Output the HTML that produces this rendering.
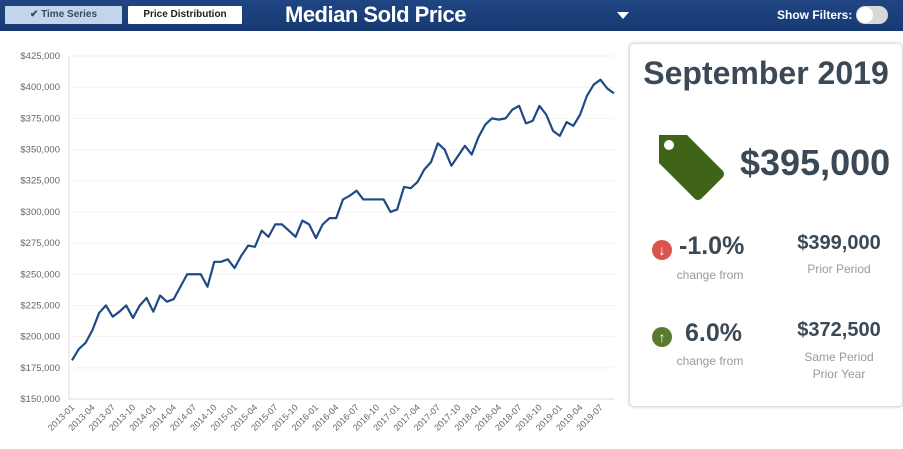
<!DOCTYPE html>
<html><head><meta charset="utf-8"><style>
body{margin:0;width:903px;height:449px;background:#fff;font-family:"Liberation Sans",sans-serif;overflow:hidden;position:relative}
.hdr{position:absolute;left:0;top:0;width:903px;height:31px;background:linear-gradient(#1f4583,#183a73)}
.btn{position:absolute;top:6px;height:18px;font-size:10px;font-weight:bold;line-height:18px;text-align:center;color:#222;border-radius:1px}
.title{position:absolute;left:285px;top:2px;font-size:22px;font-weight:bold;color:#fff;letter-spacing:-0.5px}
.panel{position:absolute;left:629px;top:43px;width:272px;height:362px;border:1px solid #ddd;border-radius:5px;box-shadow:0 0 3px #ccc;color:#3b4856}
.c{position:absolute;text-align:center}
</style></head><body>
<div class="hdr">
<div class="btn" style="left:5px;width:117px;background:#c3d5ea;color:#3a4a5e">✔ Time Series</div>
<div class="btn" style="left:128px;width:114px;background:#fff">Price Distribution</div>
<div class="title">Median Sold Price</div>
<div style="position:absolute;left:617px;top:12px;width:0;height:0;border-left:6px solid transparent;border-right:6px solid transparent;border-top:7px solid #fff"></div>
<div style="position:absolute;left:777px;top:8px;font-size:12px;font-weight:bold;color:#fff">Show Filters:</div>
<div style="position:absolute;left:856px;top:6px;width:32px;height:18px;border-radius:9px;background:#d8d8d8"><div style="position:absolute;left:1px;top:1px;width:16px;height:16px;border-radius:8px;background:#fff"></div></div>
</div>
<svg id="chart" width="625" height="449" style="position:absolute;left:0;top:0"></svg>
<div class="panel">
<div class="c" style="left:0;width:272px;top:11px;font-size:32px;font-weight:bold">September 2019</div>
<svg style="position:absolute;left:25px;top:87px" width="72" height="72"><path d="M4 4 L32 4 L68 40 Q70 43 68 46 L46 68 Q43 70 40 68 L4 32 Z" fill="#3f6317"/><circle cx="14" cy="14" r="5" fill="#fff"/></svg>
<div style="position:absolute;left:110px;top:98px;font-size:36px;font-weight:bold">$395,000</div>
<div style="position:absolute;left:22px;top:196px;width:20px;height:20px;border-radius:10px;background:#d9534f;color:#fff;font-size:14px;font-weight:bold;text-align:center;line-height:20px">↓</div>
<div style="position:absolute;left:49px;top:188px;font-size:25px;font-weight:bold">-1.0%</div>
<div class="c" style="left:25px;width:110px;top:224px;font-size:12px;color:#999">change from</div>
<div class="c" style="left:146px;width:126px;top:188px;font-size:20px;font-weight:bold">$399,000</div>
<div class="c" style="left:146px;width:126px;top:218px;font-size:12px;color:#999">Prior Period</div>
<div style="position:absolute;left:22px;top:283px;width:20px;height:20px;border-radius:10px;background:#5a7a2e;color:#fff;font-size:14px;font-weight:bold;text-align:center;line-height:20px">↑</div>
<div style="position:absolute;left:55px;top:275px;font-size:25px;font-weight:bold">6.0%</div>
<div class="c" style="left:25px;width:110px;top:310px;font-size:12px;color:#999">change from</div>
<div class="c" style="left:146px;width:126px;top:275px;font-size:20px;font-weight:bold">$372,500</div>
<div class="c" style="left:146px;width:126px;top:305px;font-size:12px;color:#999;line-height:17px">Same Period<br>Prior Year</div>
</div>
<script>
const values=[181,190,195,205,219,225,216,220,225,215,225,231,220,233,228,230,240,250,250,250,240,260,260,262,255,265,273,272,285,280,290,290,285,280,293,290,279,290,295,295,310,313,317,310,310,310,310,300,302,320,319,324,334,340,355,350,337,345,353,346,360,370,375,374,375,382,385,371,373,385,378,365,361,372,369,378,393,402,406,399,395];
const startYear=2013,startMonth=1;
const yTicks=[150000,175000,200000,225000,250000,275000,300000,325000,350000,375000,400000,425000];
const svg=document.getElementById('chart');const NS='http://www.w3.org/2000/svg';
const x0=72,x1=614,yMin=150000,yMax=425000,py0=399,py1=56;
const xs=i=>x0+(x1-x0)*i/(values.length-1);
const ys=v=>py0-(v-yMin)/(yMax-yMin)*(py0-py1);
function mk(t,a){const e=document.createElementNS(NS,t);for(const k in a)e.setAttribute(k,a[k]);svg.appendChild(e);return e;}
yTicks.forEach(t=>{
 const g=mk('line',{x1:69,x2:614,y1:ys(t),y2:ys(t),stroke:t===yMin?'#ddd':'#f2f2f2','stroke-width':1});
 
 
 const l=mk('text',{x:60,y:ys(t)+3,'text-anchor':'end','font-size':9.5,fill:'#666'});
 l.textContent='$'+t.toLocaleString('en-US');
 
 
});
const ax=mk('line',{x1:69,x2:69,y1:56,y2:400,stroke:'#ddd'});


for(let i=0;i<values.length;i+=3){
 const m=(startMonth-1+i)%12+1,y=startYear+Math.floor((startMonth-1+i)/12);
 const t=mk('text',{x:xs(i)+3,y:408,'text-anchor':'end','font-size':9,fill:'#666',transform:`rotate(-45 ${xs(i)+3} 408)`});
 t.textContent=y+'-'+String(m).padStart(2,'0');
 
 
}
const p=mk('polyline',{points:values.map((v,i)=>xs(i)+','+ys(v*1000)).join(' '),fill:'none',stroke:'#1f4a85','stroke-width':2.2,'stroke-linejoin':'round'});


</script>
</body></html>
